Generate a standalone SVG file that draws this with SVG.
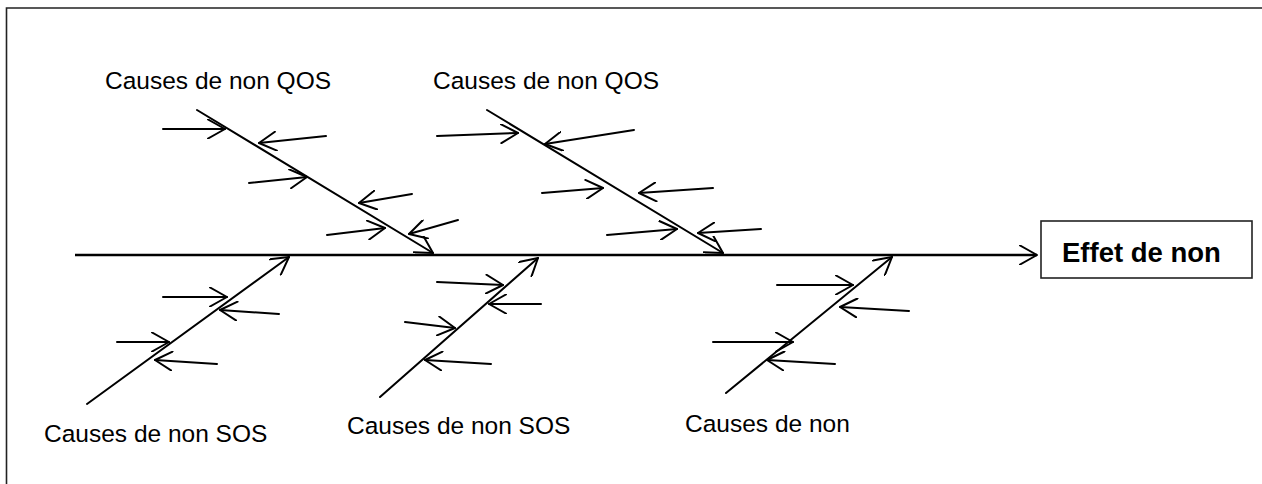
<svg xmlns="http://www.w3.org/2000/svg" width="1262" height="484" viewBox="0 0 1262 484">
<style>
.ln{stroke:#000;stroke-width:2;fill:none;stroke-linecap:round;marker-end:url(#ah)}
.sp{stroke:#000;stroke-width:2.5;fill:none;marker-end:url(#ah)}
.lbl{font-family:"Liberation Sans",Arial,sans-serif;font-size:24.5px;fill:#000}
.eff{font-family:"Liberation Sans",Arial,sans-serif;font-size:27.5px;font-weight:bold;fill:#000}
</style>
<defs>
<marker id="ah" viewBox="0 0 20 20" refX="18" refY="10" markerWidth="20" markerHeight="20" markerUnits="userSpaceOnUse" orient="auto">
<path d="M1,0.5 L18,10 L1,19.5" fill="none" stroke="#000" stroke-width="2" stroke-linecap="round" stroke-linejoin="round"/>
</marker>
</defs>
<rect x="0" y="0" width="1262" height="484" fill="#fff"/>
<path d="M6.5,490 L6.5,8 L1270,8" fill="none" stroke="#222" stroke-width="1.6"/>
<g id="connectors">
<line class="sp" x1="75" y1="255" x2="1037" y2="255"/>
<line class="ln" x1="197" y1="110" x2="433" y2="253"/>
<line class="ln" x1="487" y1="110" x2="723" y2="253"/>
<line class="ln" x1="87" y1="404" x2="289" y2="257"/>
<line class="ln" x1="380" y1="397" x2="538" y2="258"/>
<line class="ln" x1="726" y1="393" x2="892" y2="257"/>
<line class="ln" x1="163" y1="129" x2="225" y2="129"/>
<line class="ln" x1="326" y1="136" x2="259" y2="143"/>
<line class="ln" x1="249" y1="183" x2="307" y2="177"/>
<line class="ln" x1="412" y1="194" x2="359" y2="203"/>
<line class="ln" x1="327" y1="235" x2="385" y2="228"/>
<line class="ln" x1="458" y1="220" x2="409" y2="234"/>
<line class="ln" x1="437" y1="136" x2="518" y2="133"/>
<line class="ln" x1="634" y1="130" x2="545" y2="144"/>
<line class="ln" x1="542" y1="193" x2="603" y2="188"/>
<line class="ln" x1="713" y1="188" x2="639" y2="193"/>
<line class="ln" x1="607" y1="235" x2="677" y2="229"/>
<line class="ln" x1="761" y1="229" x2="698" y2="233"/>
<line class="ln" x1="163" y1="297" x2="227" y2="297"/>
<line class="ln" x1="279" y1="314" x2="220" y2="310"/>
<line class="ln" x1="117" y1="342" x2="169" y2="342"/>
<line class="ln" x1="217" y1="364" x2="155" y2="360"/>
<line class="ln" x1="437" y1="282" x2="503" y2="285"/>
<line class="ln" x1="541" y1="304" x2="489" y2="304"/>
<line class="ln" x1="405" y1="322" x2="455" y2="328"/>
<line class="ln" x1="491" y1="364" x2="425" y2="360"/>
<line class="ln" x1="777" y1="285" x2="853" y2="285"/>
<line class="ln" x1="909" y1="311" x2="840" y2="307"/>
<line class="ln" x1="713" y1="342" x2="793" y2="342"/>
<line class="ln" x1="835" y1="364" x2="767" y2="360"/>
</g>
<g id="effet">
<rect x="1041" y="221" width="211" height="57" fill="#fff" stroke="#222" stroke-width="1.6"/>
<text class="eff" x="1062" y="262">Effet de non</text>
</g>
<g id="qos1"><text class="lbl" x="105" y="89">Causes de non QOS</text></g>
<g id="qos2"><text class="lbl" x="433" y="89">Causes de non QOS</text></g>
<g id="sos1"><text class="lbl" x="44" y="442">Causes de non SOS</text></g>
<g id="sos2"><text class="lbl" x="347" y="434">Causes de non SOS</text></g>
<g id="non"><text class="lbl" x="685" y="432">Causes de non</text></g>
</svg>
